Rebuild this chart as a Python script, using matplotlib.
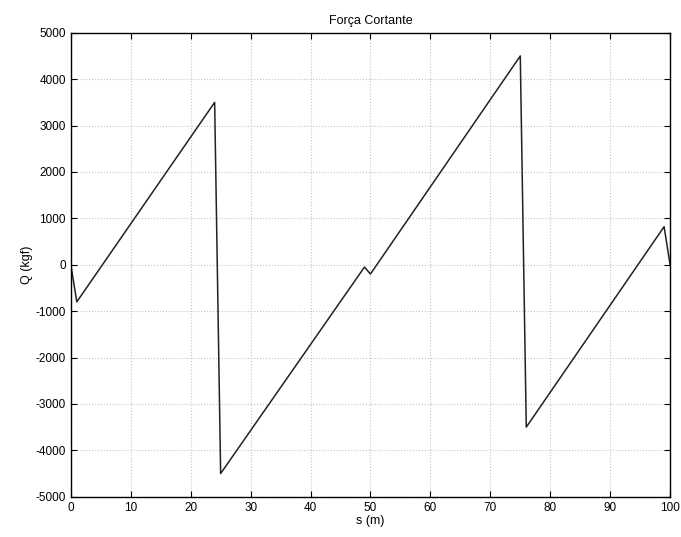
import matplotlib
matplotlib.use('Agg')
import matplotlib.pyplot as plt

# shear force diagram along the beam
s = [0, 1, 24, 25, 49, 50, 75, 76, 99, 100]
Q = [0, -800, 3500, -4500, -50, -200, 4500, -3500, 820, 0]

xticks = list(range(0, 101, 10))
yticks = list(range(-5000, 5001, 1000))

plt.rcParams['font.family'] = ['Liberation Sans', 'DejaVu Sans']
plt.rcParams['axes.unicode_minus'] = False

fig = plt.figure(figsize=(6.81, 5.37), dpi=100)
ax = fig.add_axes([0.104, 0.075, 0.880, 0.864])

ax.plot(s, Q, '-', color='#222222', linewidth=1.1)

ax.set_xlim(0, 100)
ax.set_ylim(-5000, 5000)
ax.set_xticks(xticks)
ax.set_yticks(yticks)
ax.grid(True, linestyle=':', color='#c4c4c4', linewidth=0.8)
ax.tick_params(direction='in', top=True, right=True, labelsize=8.5, length=4, width=0.8)
for sp in ax.spines.values():
	sp.set_linewidth(1.0)

ax.set_title('Força Cortante', fontsize=9)
ax.set_xlabel('s (m)', fontsize=9, labelpad=1)
ax.set_ylabel('Q (kgf)', fontsize=9, labelpad=2)

fig.savefig('out.png', dpi=100)
